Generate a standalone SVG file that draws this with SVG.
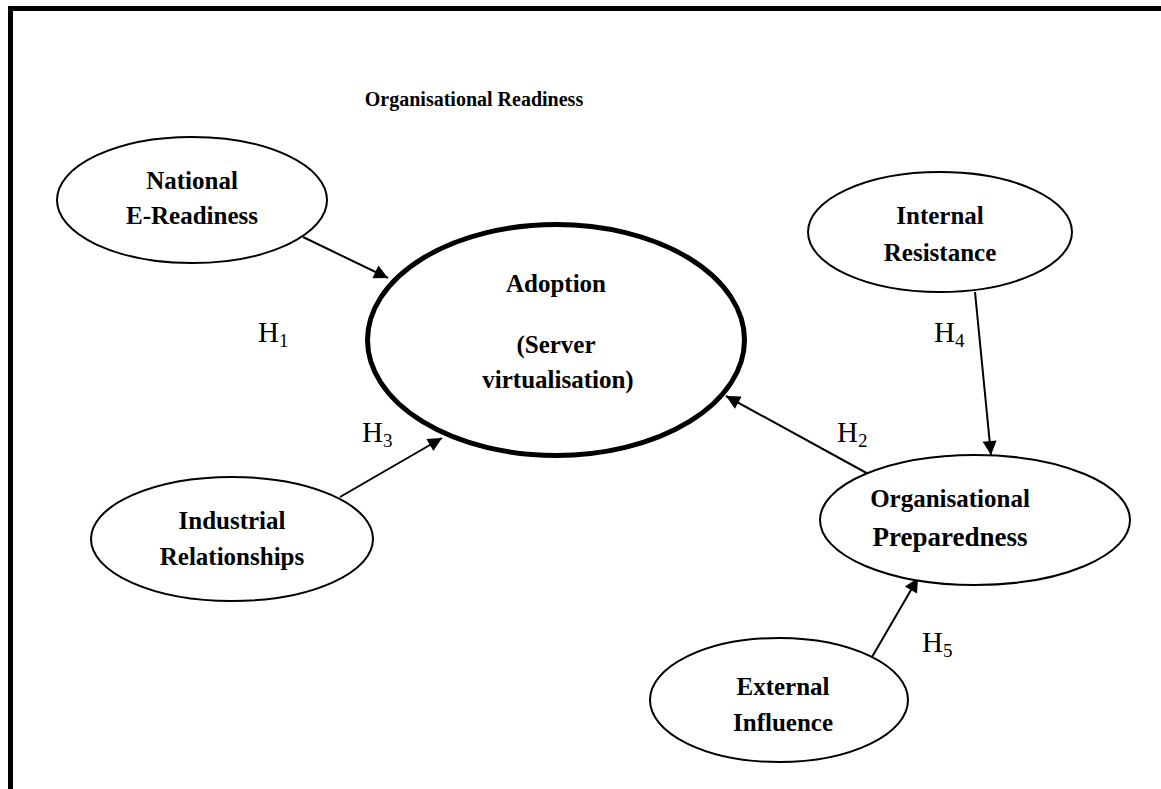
<svg xmlns="http://www.w3.org/2000/svg" width="1161" height="789" viewBox="0 0 1161 789">
  <style>
    .node { fill: #fff; stroke: #000; stroke-width: 2; }
    .core { fill: #fff; stroke: #000; stroke-width: 5; }
    .lbl { font-family: "Liberation Serif", "Times New Roman", serif; font-weight: bold; font-size: 25px; text-anchor: middle; fill: #000; }
    .hyp { font-family: "Liberation Serif", "Times New Roman", serif; font-size: 29px; fill: #000; }
    .sub { font-size: 19px; }
    .edge { stroke: #000; stroke-width: 2; fill: none; marker-end: url(#arrow); }
  </style>
  <defs>
    <marker id="arrow" viewBox="0 0 10 10" refX="10" refY="5" markerWidth="8" markerHeight="7" markerUnits="strokeWidth" orient="auto">
      <path d="M0,0 L10,5 L0,10 z" fill="#000"/>
    </marker>
  </defs>

  <rect width="1161" height="789" fill="#fff"/>

  <!-- frame: top and left rules -->
  <g id="frame" stroke="#000" stroke-width="5">
    <line x1="8" y1="8.5" x2="1161" y2="8.5"/>
    <line x1="10.5" y1="6" x2="10.5" y2="789"/>
  </g>

  <text id="title" class="lbl" x="474" y="106" style="font-size:20px">Organisational Readiness</text>

  <g id="connectors">
    <line class="edge" x1="303" y1="237" x2="388" y2="278"/>
    <line class="edge" x1="340" y1="497" x2="442" y2="438"/>
    <line class="edge" x1="872" y1="476" x2="726" y2="396"/>
    <line class="edge" x1="975" y1="292" x2="991" y2="455"/>
    <line class="edge" x1="872" y1="657" x2="918" y2="578"/>
  </g>

  <g id="national">
    <ellipse class="node" cx="192" cy="200" rx="135" ry="63"/>
    <text class="lbl" x="192" y="189">National</text>
    <text class="lbl" x="192" y="224">E-Readiness</text>
  </g>

  <g id="adoption">
    <ellipse class="core" cx="556" cy="340" rx="188.5" ry="115.5"/>
    <text class="lbl" x="556" y="292">Adoption</text>
    <text class="lbl" x="556" y="353">(Server</text>
    <text class="lbl" x="558" y="388">virtualisation)</text>
  </g>

  <g id="internal">
    <ellipse class="node" cx="940" cy="232" rx="132" ry="60"/>
    <text class="lbl" x="940" y="224">Internal</text>
    <text class="lbl" x="940" y="261">Resistance</text>
  </g>

  <g id="industrial">
    <ellipse class="node" cx="232" cy="539" rx="141" ry="62"/>
    <text class="lbl" x="232" y="529">Industrial</text>
    <text class="lbl" x="232" y="565">Relationships</text>
  </g>

  <g id="preparedness">
    <ellipse class="node" cx="975" cy="520" rx="155" ry="65"/>
    <text class="lbl" x="950" y="507">Organisational</text>
    <text class="lbl" x="950" y="546" style="font-size:27px">Preparedness</text>
  </g>

  <g id="external">
    <ellipse class="node" cx="779" cy="700" rx="129" ry="62"/>
    <text class="lbl" x="783" y="695">External</text>
    <text class="lbl" x="783" y="731">Influence</text>
  </g>

  <g id="hypotheses">
    <text class="hyp" x="258" y="342">H<tspan class="sub" dy="5">1</tspan></text>
    <text class="hyp" x="934" y="342">H<tspan class="sub" dy="5">4</tspan></text>
    <text class="hyp" x="362" y="442">H<tspan class="sub" dy="5">3</tspan></text>
    <text class="hyp" x="837" y="442">H<tspan class="sub" dy="5">2</tspan></text>
    <text class="hyp" x="922" y="652">H<tspan class="sub" dy="5">5</tspan></text>
  </g>
</svg>
